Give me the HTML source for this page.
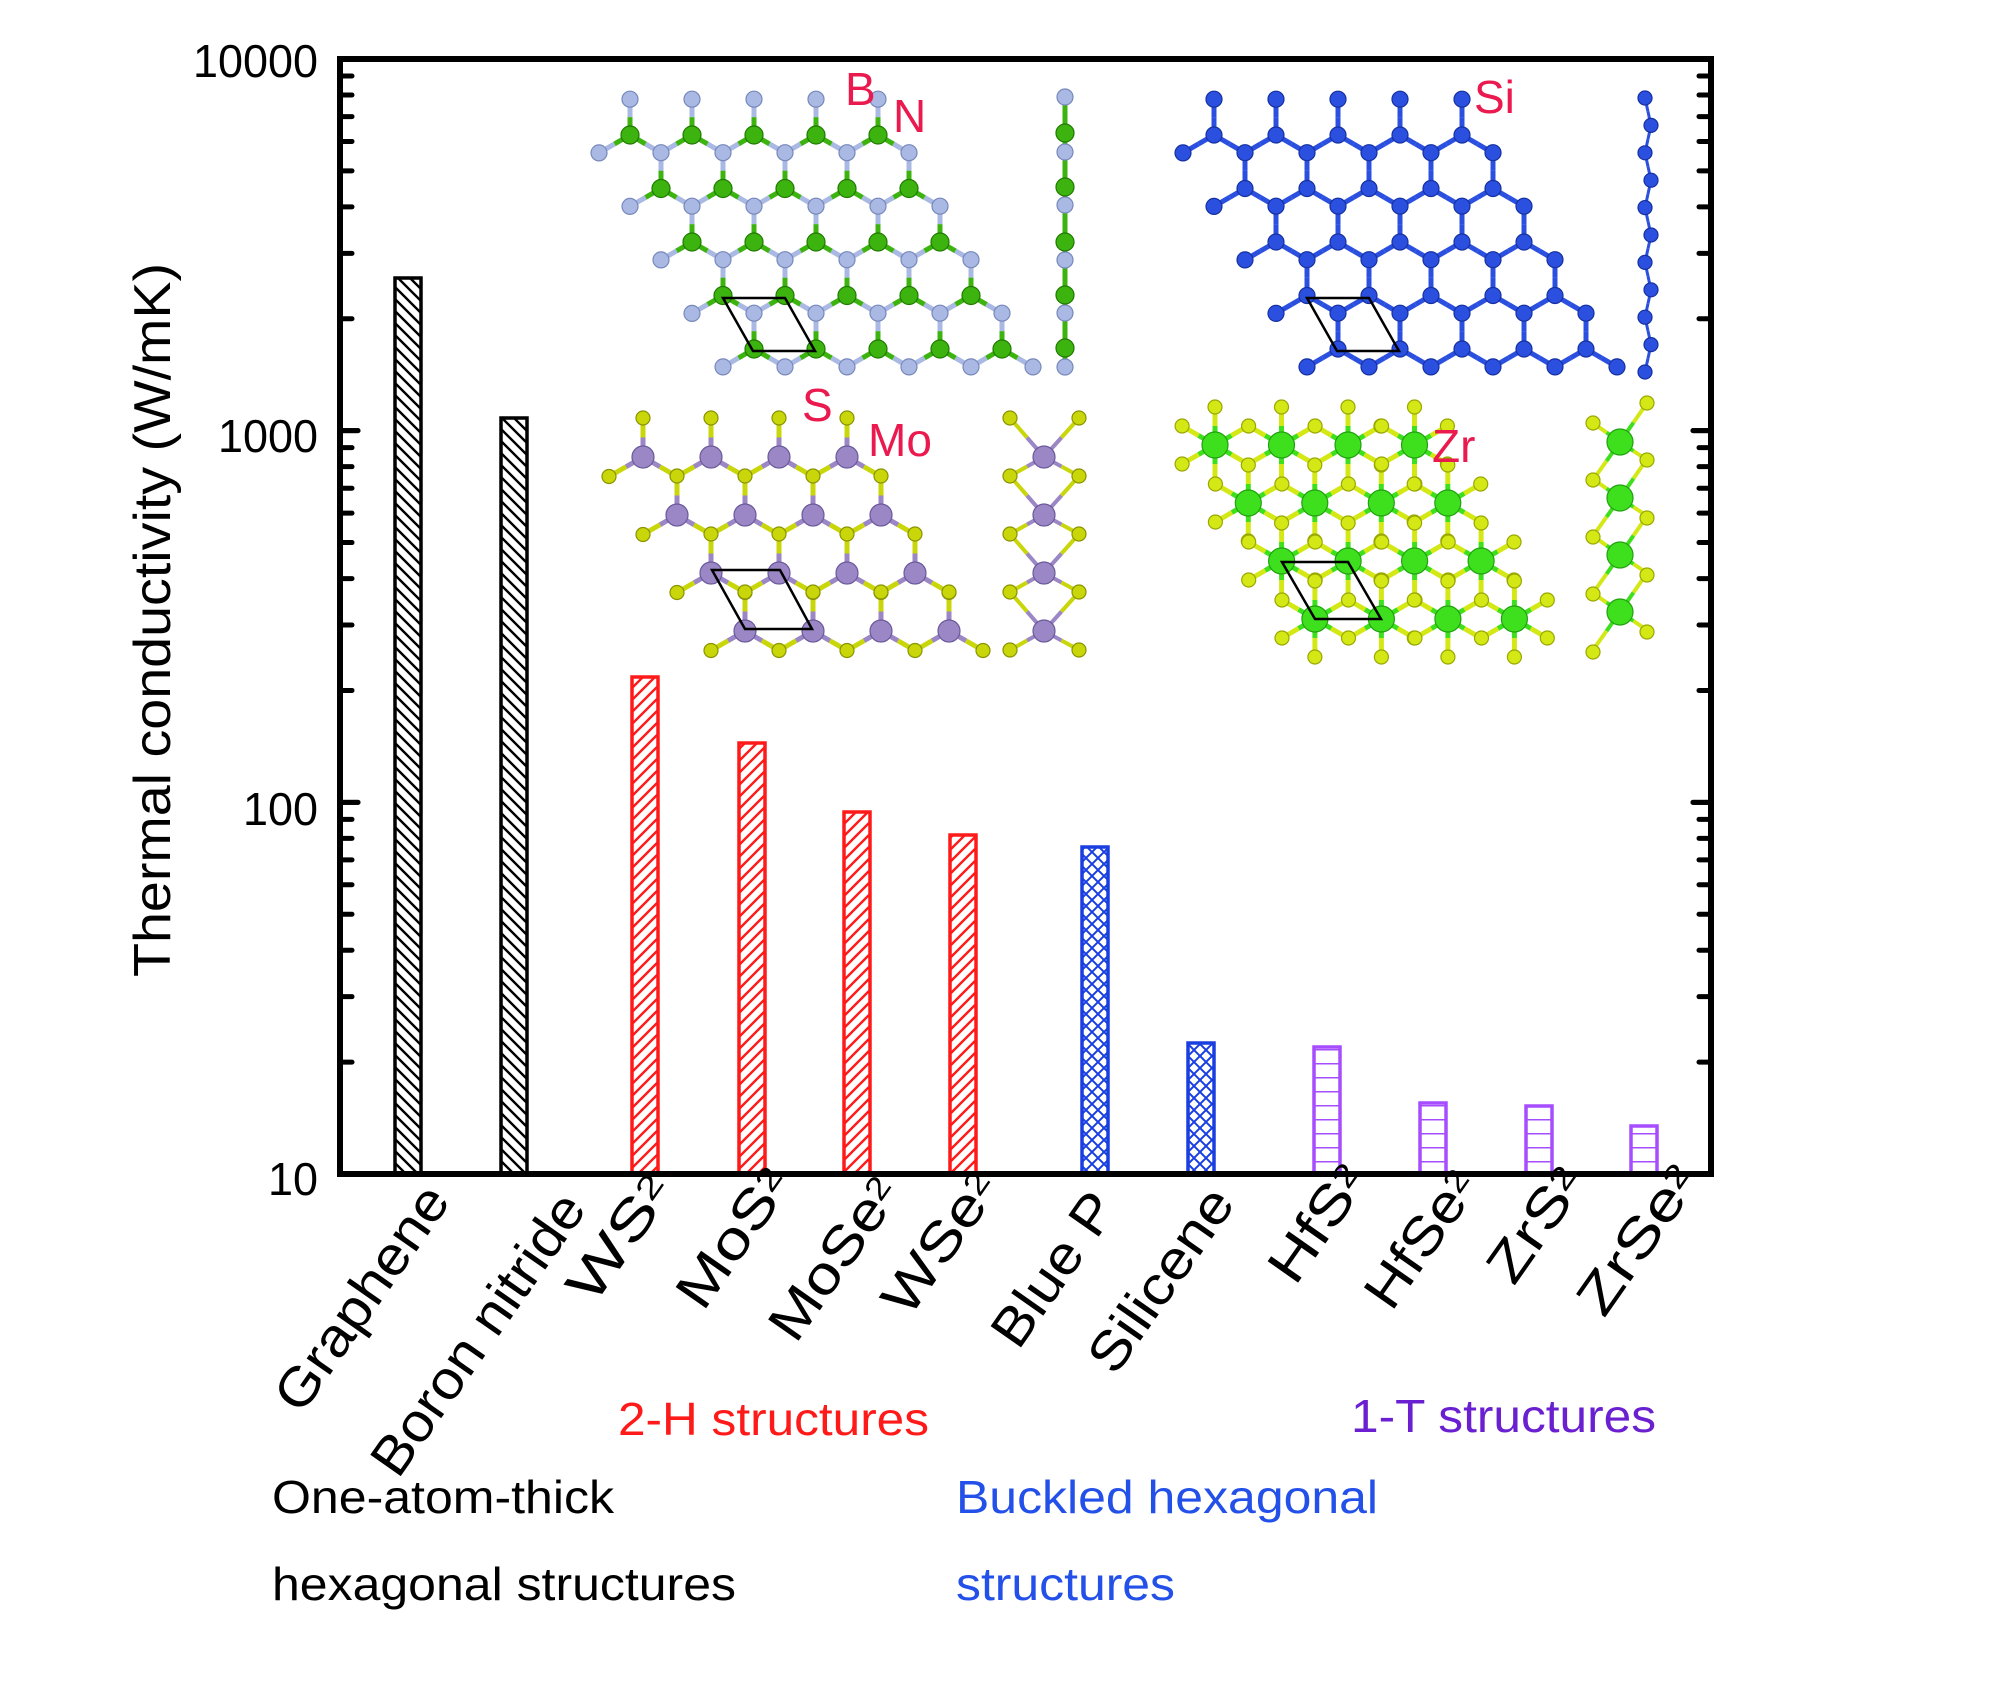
<!DOCTYPE html>
<html><head><meta charset="utf-8"><style>html,body{margin:0;padding:0;background:#fff}svg{display:block}</style></head>
<body>
<svg id="s" xmlns="http://www.w3.org/2000/svg" width="2008" height="1701" viewBox="0 0 2008 1701" font-family="Liberation Sans, Arial, sans-serif">
<defs>
<pattern id="pb" patternUnits="userSpaceOnUse" width="12" height="12"><path d="M-3,-3 L15,15 M-3,9 L3,15 M9,-3 L15,3" stroke="#000" stroke-width="2.4"/></pattern>
<pattern id="pr" patternUnits="userSpaceOnUse" width="12" height="12"><path d="M-3,15 L15,-3 M-3,3 L3,-3 M9,15 L15,9" stroke="#ff1a1a" stroke-width="2.4"/></pattern>
<pattern id="pc" patternUnits="userSpaceOnUse" width="12" height="12"><path d="M-3,15 L15,-3 M-3,3 L3,-3 M9,15 L15,9 M-3,-3 L15,15 M-3,9 L3,15 M9,-3 L15,3" stroke="#1a3fe0" stroke-width="2"/></pattern>
<pattern id="pp" patternUnits="userSpaceOnUse" width="12" height="14" y="1175"><path d="M0,0 L12,0" stroke="#a64dff" stroke-width="3"/></pattern>
</defs>
<g id="lat"></g>
<g id="bars"></g>
<g id="axes"></g>
<g id="txt" font-size="46">
<text x="318" y="77" text-anchor="end" textLength="125" lengthAdjust="spacingAndGlyphs">10000</text>
<text x="318" y="452" text-anchor="end" textLength="100" lengthAdjust="spacingAndGlyphs">1000</text>
<text x="318" y="825" text-anchor="end" textLength="75" lengthAdjust="spacingAndGlyphs">100</text>
<text x="318" y="1195" text-anchor="end" textLength="50" lengthAdjust="spacingAndGlyphs">10</text>
<text transform="translate(170,620) rotate(-90)" text-anchor="middle" font-size="52" textLength="714" lengthAdjust="spacingAndGlyphs">Thermal conductivity (W/mK)</text>
<text x="618" y="1435" fill="#ff1a1a" textLength="311" lengthAdjust="spacingAndGlyphs">2-H structures</text>
<text x="1351" y="1432" fill="#6a1fd0" textLength="305" lengthAdjust="spacingAndGlyphs">1-T structures</text>
<text x="272" y="1513" textLength="342" lengthAdjust="spacingAndGlyphs">One-atom-thick</text>
<text x="272" y="1600" textLength="464" lengthAdjust="spacingAndGlyphs">hexagonal structures</text>
<text x="956" y="1513" fill="#2350e8" textLength="422" lengthAdjust="spacingAndGlyphs">Buckled hexagonal</text>
<text x="956" y="1600" fill="#2350e8" textLength="219" lengthAdjust="spacingAndGlyphs">structures</text>
<g fill="#ea1a4f" font-size="46">
<text x="845" y="105">B</text><text x="893" y="132">N</text><text x="1474" y="113">Si</text>
<text x="802" y="421">S</text><text x="868" y="456">Mo</text><text x="1432" y="462">Zr</text>
</g>
</g>
<g id="xl" font-size="54"></g>
</svg>
<script>
var NS="http://www.w3.org/2000/svg";
function el(p,t,a,txt){var e=document.createElementNS(NS,t);for(var k in a)e.setAttribute(k,a[k]);if(txt)e.textContent=txt;p.appendChild(e);return e;}
var lat=document.getElementById('lat');
function bond(a,b,ca,cb,w){var mx=(a[0]+b[0])/2,my=(a[1]+b[1])/2;
 el(lat,'line',{x1:a[0],y1:a[1],x2:mx,y2:my,stroke:ca,'stroke-width':w});
 el(lat,'line',{x1:mx,y1:my,x2:b[0],y2:b[1],stroke:cb,'stroke-width':w});}
function atom(p,r,c,d){el(lat,'circle',{cx:p[0],cy:p[1],r:r,fill:c,stroke:d,'stroke-width':1.2});}
function key(p){return Math.round(p[0]/3)+','+Math.round(p[1]/3);}
function build(cfg){
 var A=[],B={},bonds=[];
 for(var r=0;r<cfg.rows;r++)for(var k=0;k<cfg.cols;k++){
  var p=[cfg.x0+r*cfg.sx+k*cfg.w,cfg.y0+r*cfg.dy];A.push(p);
  cfg.off.forEach(function(o){var q=[p[0]+o[0],p[1]+o[1]];B[key(q)]=q;bonds.push([p,q]);});
 }
 bonds.forEach(function(b){bond(b[0],b[1],cfg.ca,cfg.cb,cfg.bw);});
 var Bl=Object.keys(B).map(function(k){return B[k];});
 if(cfg.bigA){Bl.forEach(function(q){atom(q,cfg.rb,cfg.cb,cfg.db);});A.forEach(function(p){atom(p,cfg.ra,cfg.ca,cfg.da);});}
 else{A.forEach(function(p){atom(p,cfg.ra,cfg.ca,cfg.da);});Bl.forEach(function(q){atom(q,cfg.rb,cfg.cb,cfg.db);});}
 if(cfg.cell)el(lat,'polygon',{points:cfg.cell,fill:'none',stroke:'#000','stroke-width':2.5});
}
var hb=[[0,-35.8],[31,17.9],[-31,17.9]];
build({x0:630,y0:135,rows:5,cols:5,sx:31,w:62,dy:53.5,off:hb,ca:'#3cb30f',cb:'#a9b9e3',da:'#1f7a00',db:'#7788bb',ra:9,rb:8,bw:5,cell:'723,298 785,298 815,351 753,351'});
build({x0:1214,y0:135,rows:5,cols:5,sx:31,w:62,dy:53.5,off:hb,ca:'#2b50e0',cb:'#2b50e0',da:'#1530a0',db:'#1530a0',ra:8,rb:8,bw:5,cell:'1307,298 1369,298 1399,351 1337,351'});
build({x0:643,y0:457,rows:4,cols:4,sx:34,w:68,dy:58,off:[[0,-39],[34,19.5],[-34,19.5]],ca:'#9b86c6',cb:'#c9d60a',da:'#6a5a99',db:'#8a9400',ra:11,rb:7,bw:5,bigA:1,cell:'712,570 780,570 812,629 745,629'});
var zo=[];for(var i=0;i<6;i++){var t=i*Math.PI/3;zo.push([38*Math.sin(t),38*Math.cos(t)]);}
build({x0:1215,y0:445,rows:4,cols:4,sx:33.3,w:66.5,dy:58,off:zo,ca:'#3ee01e',cb:'#d4e816',da:'#22a010',db:'#9aa800',ra:13,rb:7,bw:5,bigA:1,cell:'1282,562 1348,562 1381,619 1315,619'});
(function(){
 var N=[97,152,205,260,313,367],Bv=[133,187,242,295,348];
 el(lat,'line',{x1:1065,y1:97,x2:1065,y2:367,stroke:'#3cb30f','stroke-width':5});
 N.forEach(function(y){atom([1065,y],8,'#a9b9e3','#7788bb');});
 Bv.forEach(function(y){atom([1065,y],9,'#3cb30f','#1f7a00');});
 var pts=[];for(var i=0;i<11;i++){pts.push([i%2?1651:1645,98+i*27.4]);}
 for(i=0;i<10;i++)bond(pts[i],pts[i+1],'#2b50e0','#2b50e0',3);
 pts.forEach(function(p){atom(p,7,'#2b50e0','#1530a0');});
 var mo=[457,515,573,631],sy=[418,476,534,592,650];
 mo.forEach(function(y,i){[[1010,sy[i]],[1079,sy[i]],[1010,sy[i+1]],[1079,sy[i+1]]].forEach(function(q){bond([1044,y],q,'#9b86c6','#c9d60a',4);});});
 sy.forEach(function(y){atom([1010,y],7,'#c9d60a','#8a9400');atom([1079,y],7,'#c9d60a','#8a9400');});
 mo.forEach(function(y){atom([1044,y],11,'#9b86c6','#6a5a99');});
 var zr=[442,498,555,612];
 zr.forEach(function(y){[[1593,y-19],[1647,y+18],[1593,y+38],[1647,y-39]].forEach(function(q){bond([1620,y],q,'#3ee01e','#d4e816',4);});});
 [423,480,537,594,652].forEach(function(y){atom([1593,y],7,'#d4e816','#9aa800');});
 [403,460,518,575,632].forEach(function(y){atom([1647,y],7,'#d4e816','#9aa800');});
 zr.forEach(function(y){atom([1620,y],13,'#3ee01e','#22a010');});
})();
var bars=document.getElementById('bars');
var data=[[408,278,'pb','#000'],[514,418,'pb','#000'],[645,677,'pr','#ff1a1a'],[752,743,'pr','#ff1a1a'],[857,812,'pr','#ff1a1a'],[963,835,'pr','#ff1a1a'],[1095,847,'pc','#1a3fe0'],[1201,1043,'pc','#1a3fe0'],[1327,1047,'pp','#a64dff'],[1433,1103,'pp','#a64dff'],[1539,1106,'pp','#a64dff'],[1644,1126,'pp','#a64dff']];
data.forEach(function(d){el(bars,'rect',{x:d[0]-13,y:d[1],width:26,height:1174-d[1],fill:'url(#'+d[2]+')',stroke:d[3],'stroke-width':3.5});});
var ax=document.getElementById('axes');
var L=340,R=1711,T=59,Bt=1174;
el(ax,'rect',{x:L,y:T,width:R-L,height:Bt-T,fill:'none',stroke:'#000','stroke-width':6});
var dec=(Bt-T)/3;
for(var d=0;d<3;d++){for(var k=1;k<=10;k++){var y=Bt-d*dec-Math.log10(k)*dec;var len=(k==1||k==10)?18:12;
 el(ax,'line',{x1:L,y1:y,x2:L+len,y2:y,stroke:'#000','stroke-width':5,'stroke-linecap':'round'});
 el(ax,'line',{x1:R,y1:y,x2:R-len,y2:y,stroke:'#000','stroke-width':5,'stroke-linecap':'round'});}}
var xl=document.getElementById('xl');
var S=1.287,ang=55,u=[Math.cos(ang*Math.PI/180),-Math.sin(ang*Math.PI/180)];
var labs=[['Graphene','',228,1100,343,932],['Boron nitride','',303,1150,442,933],['WS','2',455,1015,533,935],['MoS','2',540,1020,625,930],['MoSe','2',612,1045,707,935],['WSe','2',700,1025,790,935],['Blue P','',785,1050,865,940],['Silicene','',860,1070,955,935],['HfS','2',1000,1000,1080,932],['HfSe','2',1075,1020,1163,935],['ZrS','2',1170,1000,1250,935],['ZrSe','2',1240,1025,1335,930]];
labs.forEach(function(l){var sx=l[2]*S+8,sy=l[3]*S,ex=l[4]*S+8,ey=l[5]*S;
 var len=(ex-sx)*u[0]+(ey-sy)*u[1];
 var t=el(xl,'text',{transform:'translate('+sx+','+sy+') rotate(-'+ang+')',textLength:len.toFixed(0),lengthAdjust:'spacingAndGlyphs'});
 t.appendChild(document.createTextNode(l[0]));
 if(l[1]){el(t,'tspan',{'font-size':32,dy:-12},l[1]);}
});
</script>
</body></html>
